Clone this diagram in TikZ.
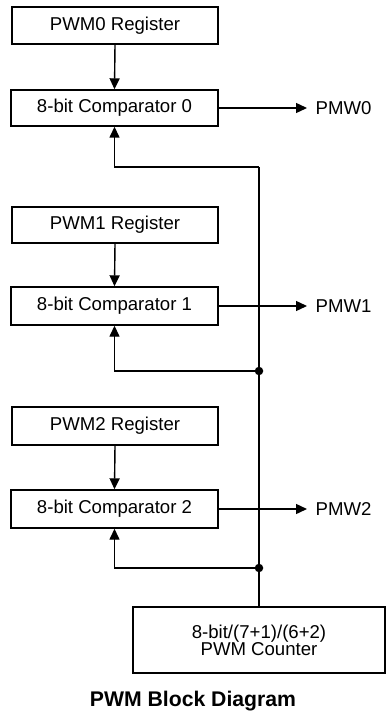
\documentclass[tikz,border=0pt]{standalone}
\usepackage{fontspec}
\setmainfont{Liberation Sans}
\usetikzlibrary{arrows.meta}
\begin{document}
\begin{tikzpicture}[x=1pt,y=-1pt,
  line width=1.4pt,
  blk/.style={draw, rectangle, inner sep=0pt, font=\fontsize{18.6}{17}\selectfont, align=center},
  lbl/.style={inner sep=0pt, font=\fontsize{18.6}{17}\selectfont},
  arr/.style={-{Triangle[length=11pt,width=10pt]}},
  dotc/.style={circle, fill, inner sep=0pt, minimum size=8.5pt}]
\useasboundingbox (0,0) rectangle (386,711);
% blocks
\node[blk, minimum width=206pt, minimum height=37pt] (reg0) at (115,25.5) {PWM0 Register};
\node[blk, minimum width=207pt, minimum height=36pt] (comp0) at (114.5,108) {8-bit Comparator 0};
\node[blk, minimum width=206pt, minimum height=36pt] (reg1) at (115,225) {PWM1 Register};
\node[blk, minimum width=207pt, minimum height=38pt] (comp1) at (114.5,306) {8-bit Comparator 1};
\node[blk, minimum width=206pt, minimum height=38pt] (reg2) at (115,426) {PWM2 Register};
\node[blk, minimum width=207pt, minimum height=38pt] (comp2) at (114.5,509) {8-bit Comparator 2};
\node[blk, minimum width=252pt, minimum height=66pt] (cnt) at (259,640) {8-bit/(7+1)/(6+2)\\PWM Counter};
% outputs
\node[lbl, anchor=west] (o0) at (315,108) {PMW0};
\node[lbl, anchor=west] (o1) at (315,306) {PMW1};
\node[lbl, anchor=west] (o2) at (315,509) {PMW2};
\coordinate (e0) at (307,108);
\coordinate (e1) at (307,306);
\coordinate (e2) at (307,509);
% bus points
\coordinate (b0) at (259,167);
\node[dotc] (b1) at (259,371) {};
\node[dotc] (b2) at (259,568) {};
% connectors
\draw[arr] (reg0.south) -- (comp0.north);
\draw[arr] (reg1.south) -- (comp1.north);
\draw[arr] (reg2.south) -- (comp2.north);
\draw[arr] (comp0.east) -- (e0);
\draw[arr] (comp1.east) -- (e1);
\draw[arr] (comp2.east) -- (e2);
\draw (b0) -- (cnt.north);
\draw[arr] (b0) -| (comp0.south);
\draw[arr] (b1.center) -| (comp1.south);
\draw[arr] (b2.center) -| (comp2.south);
% title
\node[anchor=base, inner sep=0pt, font=\fontsize{21.2}{24}\selectfont\bfseries] (title) at (193,706) {PWM Block Diagram};
\end{tikzpicture}
\end{document}
